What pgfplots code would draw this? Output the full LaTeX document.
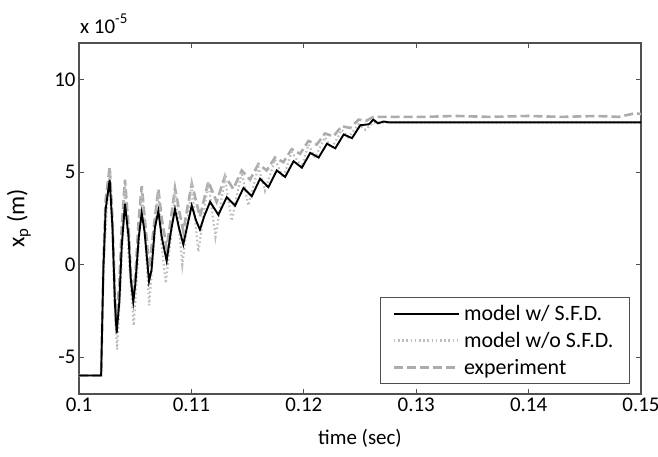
\documentclass[border=0pt]{standalone}
\usepackage{fontspec}
\setmainfont{Carlito}
\usepackage{pgfplots}
\pgfplotsset{compat=1.18}
\definecolor{axgray}{RGB}{80,80,80}
\definecolor{dotgray}{RGB}{190,190,190}
\definecolor{dashgray}{RGB}{172,172,172}
\begin{document}
\begin{tikzpicture}
\begin{axis}[
  at={(0,0)}, anchor=south west,
  scale only axis, width=562bp, height=351bp,
  clip=false,
  xmin=0.1, xmax=0.15, ymin=-7, ymax=12,
  xtick={0.1,0.11,0.12,0.13,0.14,0.15},
  xticklabels={0.1,0.11,0.12,0.13,0.14,0.15},
  ytick={-5,0,5,10},
  yticklabels={-5,0,5,10},
  scaled x ticks=false, scaled y ticks=false,
  tick align=inside, major tick length=5bp,
  axis line style={axgray, line width=1.3bp},
  every tick/.style={axgray, line width=1bp},
  /pgf/number format/assume math mode=true,
  tick label style={font=\fontsize{21}{24}\selectfont, black},
  xlabel={time (sec)},
  ylabel={x\textsubscript{p} (m)},
  every axis x label/.style={at={(axis description cs:0.5,-0.125)}, anchor=center},
  every axis y label/.style={at={(axis description cs:-0.107,0.5)}, anchor=center, rotate=90},
  xlabel style={font=\fontsize{21}{24}\selectfont},
  ylabel style={font=\fontsize{24}{28}\selectfont},
  reverse legend,
  legend cell align=left,
  legend style={at={(1,0)}, anchor=south east, xshift=-11bp, yshift=10bp,
    font=\fontsize{22}{25}\selectfont, draw=axgray, line width=1bp,
    inner xsep=12bp, inner ysep=6bp, row sep=6bp,
    nodes={inner xsep=4bp}},
  legend image code/.code={\draw[#1] (0bp,0bp) -- (65bp,0bp);},
]
% experiment
\addplot[dashgray, line width=2.6bp, dash pattern=on 9bp off 4bp] coordinates {
(0.1000,-6) (0.10186,-6) (0.10197,-6) (0.10207,-3) (0.10217,0) (0.10237,3.5) (0.10273,5.3)
(0.10298,2.5) (0.10319,-1.5) (0.10329,-3.3) (0.10359,-1) (0.10380,2) (0.10409,4.6)
(0.10441,2) (0.10461,-0.5) (0.10481,-1.6) (0.10502,-0.5) (0.10532,2.5) (0.10558,4.25)
(0.10593,2) (0.10624,-0.2) (0.10665,2) (0.10706,4.1) (0.10736,2.5) (0.10780,0.9)
(0.10818,2.5) (0.10854,4.15) (0.10889,3) (0.10928,1.8) (0.11003,4.4) (0.11076,2.6)
(0.11151,4.5) (0.11225,3.4) (0.11299,4.8) (0.11373,4.1) (0.11448,5.1) (0.11522,4.6)
(0.11596,5.45) (0.11670,5.1) (0.11744,5.8) (0.11818,5.55) (0.11892,6.25) (0.11967,6.0)
(0.12041,6.7) (0.12115,6.5) (0.12189,7.1) (0.12264,6.95) (0.12338,7.5) (0.12412,7.4)
(0.12487,7.85) (0.12558,7.8) (0.12619,8.0) (0.12762,8.0) (0.1307,8.0) (0.1335,8.05) (0.1365,8.0)
(0.14,8.05) (0.143,8.0) (0.146,8.05) (0.148,8.0) (0.1495,8.2) (0.15,8.15)
};
\addlegendentry{experiment}
% model w/o SFD
\addplot[dotgray, line width=2.2bp, dash pattern=on 1.6bp off 2.6bp] coordinates {
(0.1000,-6) (0.10197,-6) (0.10207,-3.5) (0.10217,-0.5) (0.10247,3) (0.10273,5.0)
(0.10298,1.5) (0.10319,-2.5) (0.10339,-4.6) (0.10370,-1) (0.10410,4.4) (0.10441,0.5)
(0.10487,-3.3) (0.10522,0) (0.10558,4.0) (0.10593,1) (0.10624,-2.2) (0.10665,1)
(0.10706,3.9) (0.10736,1) (0.10772,-1.0) (0.10818,1.5) (0.10854,4.0) (0.10889,2)
(0.10919,0.0) (0.11003,4.25) (0.11062,0.7) (0.11151,4.5) (0.11214,1.5) (0.11299,4.7)
(0.11358,2.37) (0.11448,5.0) (0.11507,3.2) (0.11596,5.3) (0.11654,4.0) (0.11744,5.7)
(0.11817,4.7) (0.11892,6.1) (0.11981,5.3) (0.12041,6.5) (0.12100,5.8) (0.12189,6.9)
(0.12248,6.3) (0.12338,7.3) (0.12397,6.9) (0.12487,7.6) (0.12548,7.3) (0.12619,7.7)
(0.12762,7.7) (0.13,7.7) (0.135,7.7) (0.14,7.7) (0.145,7.7) (0.15,7.7)
};
\addlegendentry{model w/o S.F.D.}
% model w/ SFD
\addplot[black, line width=1.9bp] coordinates {
(0.1000,-6) (0.10115,-6) (0.10197,-6) (0.10207,-3) (0.10217,-0.2) (0.10237,3) (0.10273,4.6)
(0.10298,2) (0.10319,-2) (0.10335,-3.7) (0.10359,-2) (0.10380,1) (0.10409,3.3)
(0.10441,1.5) (0.10461,-0.8) (0.10483,-2.0) (0.10502,-1) (0.10532,1.5) (0.10558,2.8)
(0.10583,1.8) (0.10623,-0.9) (0.10645,-0.3) (0.10675,2) (0.10706,2.9) (0.10736,1.5)
(0.10780,0.2) (0.10818,1.8) (0.10854,3.0) (0.10889,2.0) (0.10928,1.1) (0.10960,2)
(0.11003,3.2) (0.11041,2.4) (0.11076,1.9) (0.11113,2.6) (0.11166,3.4) (0.11240,2.7)
(0.11314,3.65) (0.11389,3.2) (0.11463,4.15) (0.11537,3.7) (0.11611,4.65) (0.11685,4.2)
(0.11760,5.1) (0.11834,4.75) (0.11909,5.6) (0.11983,5.25) (0.12057,6.05) (0.12132,5.8)
(0.12206,6.55) (0.12280,6.3) (0.12355,7.05) (0.12429,6.85) (0.12503,7.55) (0.12579,7.6)
(0.12619,7.85) (0.12660,7.65) (0.12711,7.75) (0.12762,7.7) (0.13,7.7) (0.135,7.7)
(0.14,7.7) (0.145,7.7) (0.15,7.7)
};
\addlegendentry{model w/ S.F.D.}
\node[anchor=south west, inner sep=0pt, font=\fontsize{21}{24}\selectfont]
  at (rel axis cs:0,1) [xshift=1bp, yshift=9bp]
  {x 10\raisebox{10bp}{\fontsize{15}{17}\selectfont -5}};
\end{axis}
\pgfresetboundingbox
\path[use as bounding box] (-79bp,-63bp) rectangle (579bp,394bp);
\end{tikzpicture}
\end{document}
